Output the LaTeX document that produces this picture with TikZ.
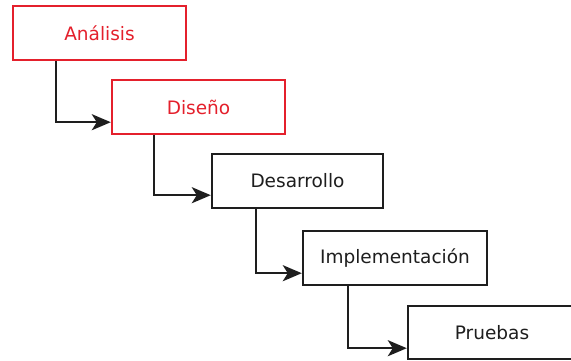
\documentclass[tikz,border=0pt]{standalone}
\usepackage{fontspec}
\setmainfont{DejaVu Sans}
\usetikzlibrary{calc,arrows.meta}
\definecolor{boxred}{RGB}{228,32,44}
\definecolor{ink}{RGB}{30,30,30}
\tikzset{
  phase/.style={draw=ink, line width=2.4pt, fill=white, inner sep=0pt, text=ink,
    minimum height=54pt, font=\fontsize{18.5}{21}\selectfont},
  redphase/.style={phase, draw=boxred, text=boxred},
  arr/.style={draw=ink, line width=2.4pt, -{Stealth[length=19pt,width=16pt,inset=5pt]}}
}
\begin{document}
\begin{tikzpicture}[x=1pt,y=-1pt]
\useasboundingbox (0,0) rectangle (571,360);
\node[redphase, minimum width=173pt] (A) at (99.5,33) {Análisis};
\node[redphase, minimum width=173pt] (D) at (198.5,107) {Diseño};
\node[phase, minimum width=171pt] (E) at (297.5,181) {Desarrollo};
\node[phase, minimum width=184pt] (I) at (395,258) {Implementación};
\node[phase, minimum width=184pt, minimum height=53pt] (P) at (500,332.5) {\hspace*{-16pt}Pruebas};
\draw[arr] ($(A.south west)+(44,0)$) |- ($(D.south west)+(0,-13)$);
\draw[arr] ($(D.south west)+(43,0)$) |- ($(E.south west)+(0,-14)$);
\draw[arr] ($(E.south west)+(45,0)$) |- ($(I.south west)+(0,-13)$);
\draw[arr] ($(I.south west)+(46,0)$) |- ($(P.south west)+(0,-12)$);
\end{tikzpicture}
\end{document}
